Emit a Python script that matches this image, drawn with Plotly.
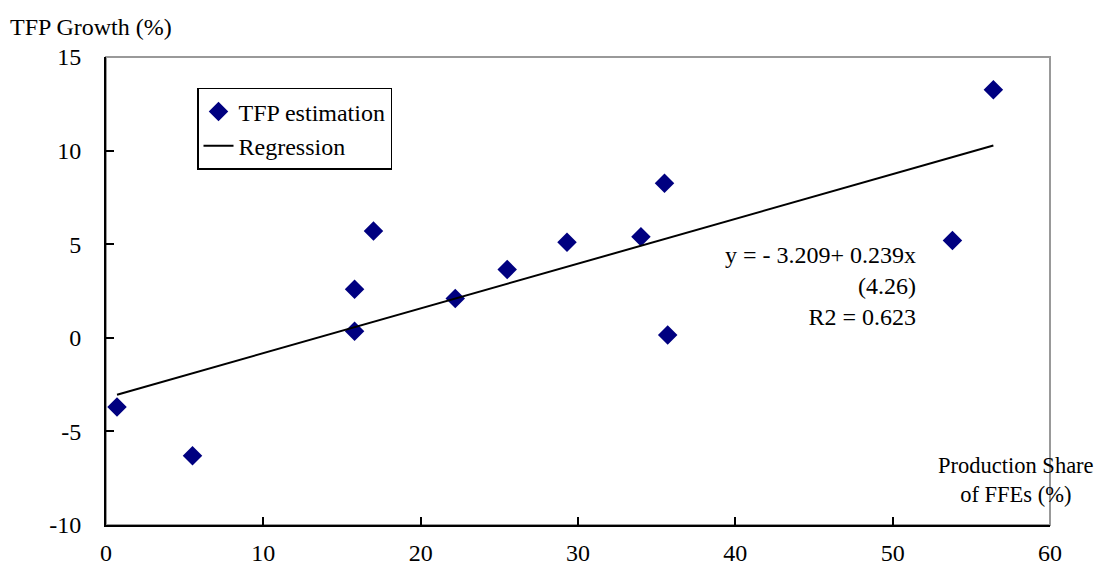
import plotly.graph_objects as go

# Data
share = [0.7, 5.5, 15.8, 15.8, 17.0, 22.2, 25.5, 29.3, 34.0, 35.5, 35.7, 53.8, 56.4]
tfp = [-3.7, -6.3, 0.35, 2.6, 5.7, 2.1, 3.65, 5.1, 5.4, 8.25, 0.15, 5.2, 13.25]
intercept = -3.209
slope = 0.239
x_ticks = [0, 10, 20, 30, 40, 50, 60]
y_ticks = [-10, -5, 0, 5, 10, 15]

reg_x = [min(share), max(share)]
reg_y = [intercept + slope * v for v in reg_x]

FONT = "Liberation Serif, Times New Roman, serif"
FS = 24

fig = go.Figure()
fig.add_trace(go.Scatter(
    x=share, y=tfp, mode="markers", name="TFP estimation",
    marker=dict(symbol="diamond", size=15, color="#000080",
                line=dict(width=0)),
))
fig.add_trace(go.Scatter(
    x=reg_x, y=reg_y, mode="lines", name="Regression",
    line=dict(color="black", width=2),
))

fig.update_layout(
    width=1097, height=564,
    margin=dict(l=98, r=55, t=49, b=47),
    paper_bgcolor="white", plot_bgcolor="white",
    font=dict(family=FONT, size=FS, color="black"),
    showlegend=True,
    legend=dict(x=0.0964, y=0.934, xanchor="left", yanchor="top",
                bordercolor="black", borderwidth=1.5, bgcolor="white",
                font=dict(size=FS), itemwidth=30,
                tracegroupgap=0, traceorder="normal"),
    shapes=[dict(type="rect", xref="paper", yref="paper", x0=0, y0=0, x1=1, y1=1,
                 line=dict(color="#999999", width=2), layer="below")],
)
fig.update_xaxes(
    range=[0, 60], tickvals=x_ticks, ticktext=[str(v) for v in x_ticks],
    showgrid=False, zeroline=False, showline=True, linecolor="black", linewidth=2,
    ticks="inside", ticklen=8, tickwidth=2, tickcolor="black", automargin=False,
    ticklabelstandoff=5, tickfont=dict(size=FS),
)
fig.update_yaxes(
    range=[-10, 15], tickvals=y_ticks, ticktext=[str(v) for v in y_ticks],
    showgrid=False, zeroline=False, showline=True, linecolor="black", linewidth=2,
    ticks="inside", ticklen=8, tickwidth=2, tickcolor="black", automargin=False,
    ticklabelstandoff=18, tickfont=dict(size=FS),
)

fig.add_annotation(x=(8 - 106) / 944, y=(525 - 27) / 468, xref="paper", yref="paper",
                   xanchor="left", yanchor="middle",
                   text="TFP Growth (%)", showarrow=False, font=dict(size=FS))
fig.add_annotation(x=(1016 - 106) / 944, y=(525 - 480) / 468, xref="paper", yref="paper",
                   xanchor="center", yanchor="middle",
                   text="Production Share<br>of FFEs (%)", showarrow=False, font=dict(size=22.5),
                   align="center")
fig.add_annotation(x=(918 - 106) / 944, y=(525 - 286) / 468, xref="paper", yref="paper",
                   xanchor="right", yanchor="middle",
                   text=f"y = - {abs(intercept):.3f}+ {slope:.3f}x<br>(4.26)<br>R2 = 0.623",
                   showarrow=False, font=dict(size=FS), align="right")

fig.write_html("out.html")
